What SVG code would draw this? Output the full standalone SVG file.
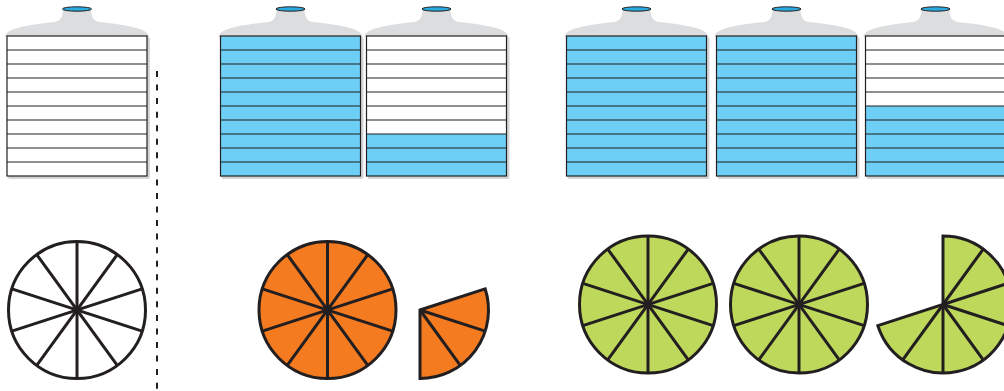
<svg xmlns="http://www.w3.org/2000/svg" xmlns:xlink="http://www.w3.org/1999/xlink" width="1004" height="391" viewBox="0 0 1004 391">
<style>
.shoulder{fill:#dcddde;stroke:none}
.shadow{fill:#d4d5d6;stroke:none}
.cap{fill:#29abe2;stroke:#231f20;stroke-width:1}
.body{fill:#ffffff;stroke:none}
.water{fill:#6dcff6;stroke:none}
.outline{fill:none;stroke:#231f20;stroke-width:1.2}
.strip{stroke:#231f20;stroke-width:1.2}
.pie{stroke:#231f20;stroke-width:3;stroke-linejoin:miter}
.spoke{stroke:#231f20;stroke-width:3;stroke-linecap:butt}
.white{fill:#ffffff}
.orange{fill:#f47b20}
.green{fill:#bed85c}
.sep{stroke:#231f20;stroke-width:2;stroke-dasharray:6 7.55;fill:none}
</style>
<defs>
<g id="top">
<path class="shoulder" d="M-2,37 C-2,29 18,25 48,22 C55,21 56,14 56,9 L84,9 C84,14 85,21 92,22 C122,25 142,29 142,37 Z"/>
<rect class="shadow" x="1" y="37" width="142" height="142" rx="2"/>
<ellipse class="cap" cx="70" cy="9" rx="14.5" ry="2.2"/>
</g>
<g id="strips">
<line class="strip" x1="0" y1="50" x2="140" y2="50"/>
<line class="strip" x1="0" y1="64" x2="140" y2="64"/>
<line class="strip" x1="0" y1="78" x2="140" y2="78"/>
<line class="strip" x1="0" y1="92" x2="140" y2="92"/>
<line class="strip" x1="0" y1="106" x2="140" y2="106"/>
<line class="strip" x1="0" y1="120" x2="140" y2="120"/>
<line class="strip" x1="0" y1="134" x2="140" y2="134"/>
<line class="strip" x1="0" y1="148" x2="140" y2="148"/>
<line class="strip" x1="0" y1="162" x2="140" y2="162"/>
<rect class="outline" x="0" y="36" width="140" height="140"/>
</g>
<g id="spokes">
<line class="spoke" x1="0" y1="-68.5" x2="0" y2="68.5"/>
<line class="spoke" x1="40.26" y1="-55.42" x2="-40.26" y2="55.42"/>
<line class="spoke" x1="65.15" y1="-21.17" x2="-65.15" y2="21.17"/>
<line class="spoke" x1="65.15" y1="21.17" x2="-65.15" y2="-21.17"/>
<line class="spoke" x1="40.26" y1="55.42" x2="-40.26" y2="-55.42"/>
</g>
</defs>

<g id="jug1" transform="translate(7,0)">
<use xlink:href="#top"/>
<rect class="body" x="0" y="36" width="140" height="140"/>
<use xlink:href="#strips"/>
</g>
<g id="jug2" transform="translate(220.5,0)">
<use xlink:href="#top"/>
<rect class="water" x="0" y="36" width="140" height="140"/>
<use xlink:href="#strips"/>
</g>
<g id="jug3" transform="translate(366.5,0)">
<use xlink:href="#top"/>
<rect class="body" x="0" y="36" width="140" height="140"/>
<rect class="water" x="0" y="134" width="140" height="42"/>
<use xlink:href="#strips"/>
</g>
<g id="jug4" transform="translate(566.5,0)">
<use xlink:href="#top"/>
<rect class="water" x="0" y="36" width="140" height="140"/>
<use xlink:href="#strips"/>
</g>
<g id="jug5" transform="translate(716.5,0)">
<use xlink:href="#top"/>
<rect class="water" x="0" y="36" width="140" height="140"/>
<use xlink:href="#strips"/>
</g>
<g id="jug6" transform="translate(865.5,0)">
<use xlink:href="#top"/>
<rect class="body" x="0" y="36" width="140" height="140"/>
<rect class="water" x="0" y="106" width="140" height="70"/>
<use xlink:href="#strips"/>
</g>

<g id="connectors">
<line class="sep" x1="157" y1="71" x2="157" y2="391"/>
</g>

<g id="pie-white" transform="translate(77,310)">
<circle class="pie white" cx="0" cy="0" r="68.5"/>
<use xlink:href="#spokes"/>
</g>
<g id="pie-orange" transform="translate(327.5,310)">
<circle class="pie orange" cx="0" cy="0" r="68.5"/>
<use xlink:href="#spokes"/>
</g>
<g id="part-orange">
<path class="pie orange" d="M420,310 L485.15,288.83 A68.5,68.5 0 0 1 420,378.5 Z"/>
<line class="spoke" x1="420" y1="310" x2="485.15" y2="331.17"/>
<line class="spoke" x1="420" y1="310" x2="460.26" y2="365.42"/>
</g>
<g id="pie-green1" transform="translate(648,304.5)">
<circle class="pie green" cx="0" cy="0" r="68.5"/>
<use xlink:href="#spokes"/>
</g>
<g id="pie-green2" transform="translate(799,304.5)">
<circle class="pie green" cx="0" cy="0" r="68.5"/>
<use xlink:href="#spokes"/>
</g>
<g id="part-green">
<path class="pie green" d="M943,304.5 L943,236 A68.5,68.5 0 1 1 877.85,325.67 Z"/>
<line class="spoke" x1="943" y1="304.5" x2="983.26" y2="249.08"/>
<line class="spoke" x1="943" y1="304.5" x2="1008.15" y2="283.33"/>
<line class="spoke" x1="943" y1="304.5" x2="1008.15" y2="325.67"/>
<line class="spoke" x1="943" y1="304.5" x2="983.26" y2="359.92"/>
<line class="spoke" x1="943" y1="304.5" x2="943" y2="373"/>
<line class="spoke" x1="943" y1="304.5" x2="902.74" y2="359.92"/>
</g>
</svg>
